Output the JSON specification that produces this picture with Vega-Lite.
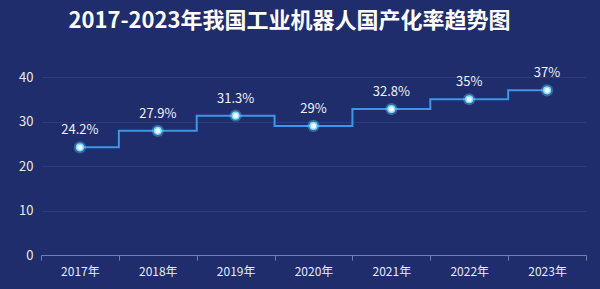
{
  "$schema": "https://vega.github.io/schema/vega-lite/v6.json",
  "width": 545,
  "height": 178,
  "autosize": {"type": "none"},
  "padding": {"left": 41, "top": 77, "right": 14, "bottom": 34},
  "background": "#1f2d6c",
  "config": {
    "view": {"stroke": null},
    "font": "Noto Sans CJK SC"
  },
  "title": {
    "text": "2017-2023年我国工业机器人国产化率趋势图",
    "color": "#ffffff",
    "fontSize": 22,
    "fontWeight": "bold",
    "font": "Noto Sans CJK SC",
    "anchor": "middle",
    "offset": 34,
    "dx": -24
  },
  "data": {
    "values": [
      {"year": "2017年", "rate": 24.2, "label": "24.2%"},
      {"year": "2018年", "rate": 27.9, "label": "27.9%"},
      {"year": "2019年", "rate": 31.3, "label": "31.3%"},
      {"year": "2020年", "rate": 29, "label": "29%"},
      {"year": "2021年", "rate": 32.8, "label": "32.8%"},
      {"year": "2022年", "rate": 35, "label": "35%"},
      {"year": "2023年", "rate": 37, "label": "37%"}
    ]
  },
  "encoding": {
    "x": {
      "field": "year",
      "type": "nominal",
      "sort": null,
      "scale": {"type": "band", "paddingInner": 0, "paddingOuter": 0},
      "axis": {
        "title": null,
        "labelAngle": 0,
        "labelColor": "#e6ebf7",
        "labelFontSize": 12,
        "labelPadding": 6,
        "domainColor": "#6f7fb0",
        "tickColor": "#6f7fb0",
        "tickSize": 5,
        "tickBand": "extent",
        "grid": false
      }
    },
    "y": {
      "field": "rate",
      "type": "quantitative",
      "scale": {"domain": [0, 40], "nice": false},
      "axis": {
        "title": null,
        "values": [0, 10, 20, 30, 40],
        "labelColor": "#e6ebf7",
        "labelFontSize": 13,
        "labelPadding": 8,
        "domain": false,
        "ticks": false,
        "gridColor": "#2d3b7c",
        "gridWidth": 1
      }
    }
  },
  "layer": [
    {
      "mark": {"type": "line", "interpolate": "step", "color": "#3f95e8", "strokeWidth": 2}
    },
    {
      "mark": {"type": "point", "filled": true, "fill": "#6fd3ff", "opacity": 0.35, "size": 150}
    },
    {
      "mark": {"type": "point", "filled": true, "fill": "#f2fbff", "stroke": "#7fdcff", "strokeWidth": 1.5, "opacity": 1, "size": 45}
    },
    {
      "mark": {"type": "text", "dy": -17, "color": "#eef2fb", "fontSize": 13, "font": "Noto Sans CJK SC"},
      "encoding": {"text": {"field": "label"}}
    }
  ]
}
